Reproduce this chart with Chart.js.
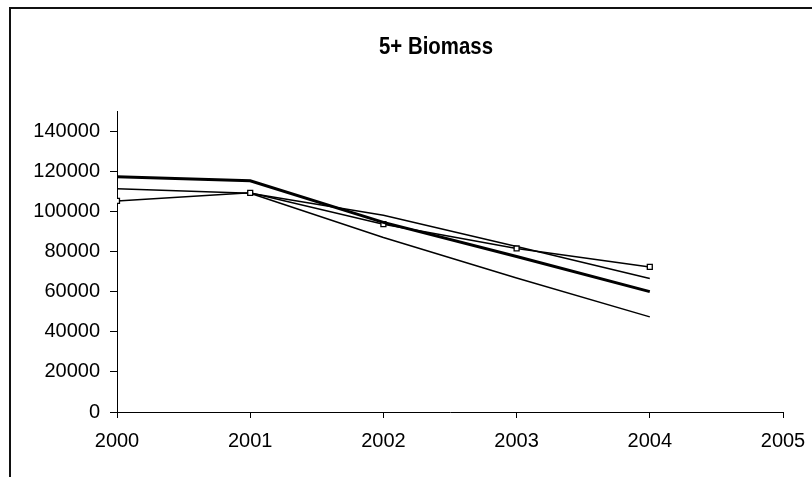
<!DOCTYPE html>
<html>
<head>
<meta charset="utf-8">
<script src="https://cdn.jsdelivr.net/npm/chart.js@4/dist/chart.umd.min.js"></script>
<style>
  html, body { margin: 0; padding: 0; background: #fff; overflow: hidden; }
  #frame {
    position: absolute; left: 9px; top: 7px; width: 1000px; height: 1000px;
    border-top: 2px solid #111; border-left: 2px solid #111;
  }
  #biomassChart { position: absolute; left: 0; top: 0; }
</style>
</head>
<body>
<div id="frame"></div>
<canvas id="biomassChart" width="812" height="477"></canvas>
<script>
const titleText = '5+ Biomass';
const years = [2000, 2001, 2002, 2003, 2004];

// four runs, values
const thickSeries  = [117200, 115200, 94500, 77500, 60000];
const markerSeries = [105200, 109200, 93600, 81500, 72300];
const upperSeries  = [111200, 109000, 98000, 82500, 66500];
const lowerSeries  = [null,   109000, 87000, 66800, 47400];

const xTicks = [2000, 2001, 2002, 2003, 2004, 2005];
const yTicks = [0, 20000, 40000, 60000, 80000, 100000, 120000, 140000];

const font = { family: '"Liberation Sans", Arial, sans-serif', size: 20, lineHeight: 1 };

function toPoints(values) {
  return years.map((yr, i) => ({ x: yr, y: values[i] }));
}

// excel title looks tall and a bit narrow, so squeeze it sideways
const titlePlugin = {
  id: 'titleText',
  afterDraw(chart) {
    const ctx = chart.ctx;
    ctx.save();
    ctx.translate(436, 47);
    ctx.scale(0.85, 1);
    ctx.fillStyle = '#000';
    ctx.font = 'bold 24px "Liberation Sans", Arial, sans-serif';
    ctx.textAlign = 'center';
    ctx.textBaseline = 'middle';
    ctx.fillText(titleText, 0, 0);
    ctx.restore();
  }
};

const biomassData = {
  datasets: [
    {
      label: 'upper',
      data: toPoints(upperSeries),
      borderColor: '#000',
      borderWidth: 1.5,
      pointRadius: 0,
      order: 3
    },
    {
      label: 'lower',
      data: toPoints(lowerSeries),
      borderColor: '#000',
      borderWidth: 1.5,
      pointRadius: 0,
      order: 4
    },
    {
      label: 'markers',
      data: toPoints(markerSeries),
      borderColor: '#000',
      borderWidth: 1.5,
      pointStyle: 'rect',
      pointRadius: 3.5,
      pointBorderWidth: 1.3,
      pointBackgroundColor: '#fff',
      pointBorderColor: '#000',
      order: 2
    },
    {
      label: 'thick',
      data: toPoints(thickSeries),
      borderColor: '#000',
      borderWidth: 3,
      pointRadius: 0,
      order: 1
    }
  ]
};

const configLine = {
  type: 'line',
  data: biomassData,
  plugins: [titlePlugin],
  options: {
    responsive: false,
    animation: false,
    devicePixelRatio: 1,
    layout: { padding: { left: 0, right: 29, top: 111, bottom: 0 } },
    plugins: {
      legend: { display: false },
      tooltip: { enabled: false },
      title: { display: false }
    },
    scales: {
      x: {
        type: 'linear',
        min: 2000,
        max: 2005,
        afterBuildTicks: (scale) => { scale.ticks = xTicks.map(v => ({ value: v })); },
        afterFit: (scale) => {
          scale.height = 65;
          scale.paddingLeft = 0;
          scale.paddingRight = 0;
        },
        ticks: {
          color: '#000',
          font: font,
          padding: 13,
          maxRotation: 0,
          callback: (v) => String(v)
        },
        grid: {
          drawOnChartArea: false,
          drawTicks: true,
          tickLength: 6,
          color: '#000',
          lineWidth: 1
        },
        border: { display: true, color: '#000', width: 1 }
      },
      y: {
        min: 0,
        max: 150000,
        afterBuildTicks: (scale) => { scale.ticks = yTicks.map(v => ({ value: v })); },
        afterFit: (scale) => { scale.width = 117; },
        ticks: {
          color: '#000',
          font: font,
          padding: 10,
          callback: (v) => String(v)
        },
        grid: {
          drawOnChartArea: false,
          drawTicks: true,
          tickLength: 7,
          color: '#000',
          lineWidth: 1
        },
        border: { display: true, color: '#000', width: 1 }
      }
    }
  }
};

const biomassChart = new Chart(
  document.getElementById('biomassChart'),
  configLine
);
</script>
</body>
</html>
